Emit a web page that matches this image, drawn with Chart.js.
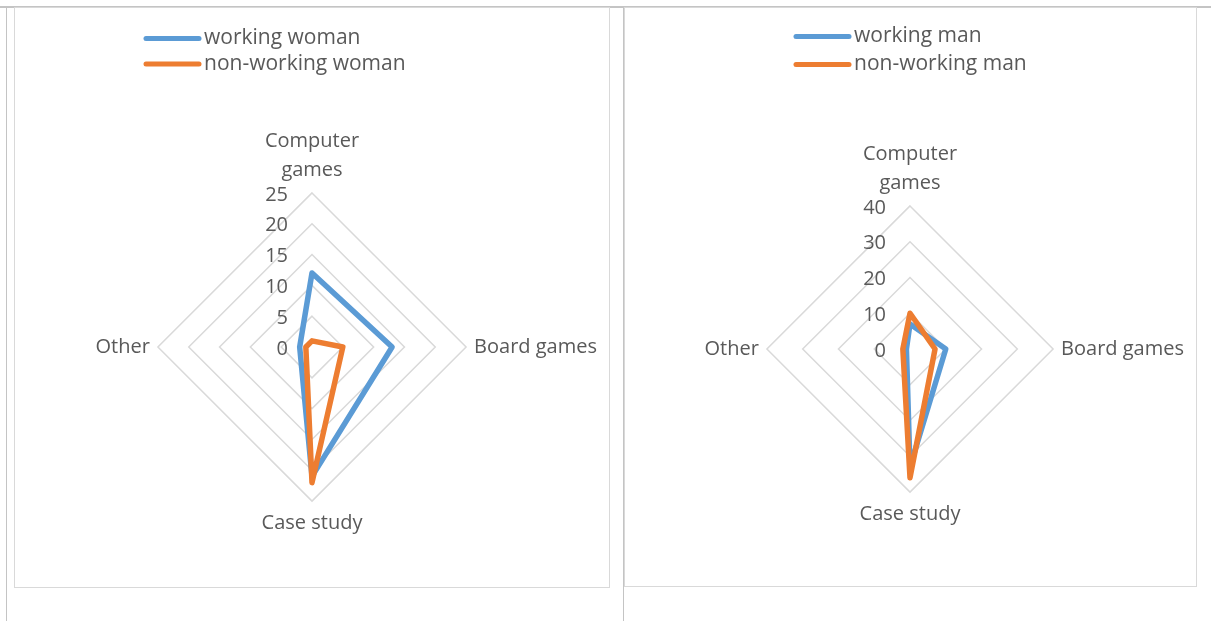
<!DOCTYPE html>
<html>
<head>
<meta charset="utf-8">
<script src="https://cdn.jsdelivr.net/npm/chart.js@4/dist/chart.umd.min.js"></script>
<style>
  html, body { margin: 0; padding: 0; background: #fff; overflow: hidden; }
  body { width: 1211px; height: 621px; position: relative; }
  .rule { position: absolute; background: #c4c4c4; }
  .frame { position: absolute; border: 1.5px solid #d9d9d9; box-sizing: border-box; }
  canvas { position: absolute; top: 0; }
  #womenChart { left: 0; }
  #menChart { left: 620px; }
</style>
</head>
<body>
  <div class="rule" style="left:0;top:6px;width:1211px;height:1.5px"></div>
  <div class="rule" style="left:5.5px;top:6px;width:1.5px;height:615px"></div>
  <div class="rule" style="left:622.5px;top:6px;width:1.5px;height:615px"></div>
  <div class="frame" style="left:14px;top:7px;width:596px;height:581px"></div>
  <div class="frame" style="left:624px;top:7px;width:573px;height:580px"></div>

  <canvas id="womenChart" width="640" height="621"></canvas>
  <canvas id="menChart" width="600" height="621"></canvas>

<script>
const categories = [["Computer", "games"], "Board games", "Case study", "Other"];

const workingWoman = [12, 13, 21, 2];
const nonWorkingWoman = [1, 5, 22, 1];
const womenTicks = [0, 5, 10, 15, 20, 25];

const workingMan = [7, 10, 33, 1];
const nonWorkingMan = [10, 7, 36, 2];
const menTicks = [0, 10, 20, 30, 40];

const BLUE = "#5b9bd5";
const ORANGE = "#ed7d31";
const TEXT = "#595959";
const FONT = "'Open Sans', sans-serif";

// legend drawn as two stacked rows: thick rounded line + label
const stackedLegend = {
  id: "stackedLegend",
  afterDraw(chart, args, opts) {
    const ctx = chart.ctx;
    ctx.save();
    ctx.font = "21px " + FONT;
    ctx.textBaseline = "middle";
    ctx.textAlign = "left";
    chart.data.datasets.forEach((ds, i) => {
      const y = opts.y + i * opts.gap;
      ctx.strokeStyle = ds.borderColor;
      ctx.lineWidth = 5;
      ctx.lineCap = "round";
      ctx.beginPath();
      ctx.moveTo(opts.x, y);
      ctx.lineTo(opts.x + 53, y);
      ctx.stroke();
      ctx.fillStyle = TEXT;
      ctx.fillText(ds.label, opts.x + 58, y);
    });
    ctx.restore();
  }
};

// value labels sit to the left of the vertical axis, right aligned
const sideTicks = {
  id: "sideTicks",
  afterDraw(chart, args, opts) {
    const scale = chart.scales.r;
    const ctx = chart.ctx;
    ctx.save();
    ctx.font = "20px " + FONT;
    ctx.fillStyle = TEXT;
    ctx.textAlign = "right";
    ctx.textBaseline = "middle";
    opts.values.forEach(v => {
      const y = scale.yCenter - scale.getDistanceFromCenterForValue(v) + 2;
      ctx.fillText(String(v), scale.xCenter - 24, y);
    });
    ctx.restore();
  }
};

function drawRadar(id, labelA, dataA, labelB, dataB, ticks, padding, legend) {
  const ctx = document.getElementById(id).getContext("2d");
  return new Chart(ctx, {
    type: "radar",
    data: {
      labels: categories,
      datasets: [
        {
          label: labelA,
          data: dataA,
          borderColor: BLUE,
          backgroundColor: BLUE,
          borderWidth: 5.5,
          borderJoinStyle: "round",
          borderCapStyle: "round",
          pointRadius: 0,
          fill: false,
          order: 1,
        },
        {
          label: labelB,
          data: dataB,
          borderColor: ORANGE,
          backgroundColor: ORANGE,
          borderWidth: 5.5,
          borderJoinStyle: "round",
          borderCapStyle: "round",
          pointRadius: 0,
          fill: false,
          order: 0,
        },
      ],
    },
    options: {
      responsive: false,
      animation: false,
      devicePixelRatio: 1,
      layout: { padding: padding },
      plugins: {
        legend: { display: false },
        tooltip: { enabled: false },
        stackedLegend: legend,
        sideTicks: { values: ticks },
      },
      scales: {
        r: {
          min: ticks[0],
          max: ticks[ticks.length - 1],
          ticks: { stepSize: ticks[1] - ticks[0], display: false },
          angleLines: { display: false },
          grid: { color: "#d9d9d9", lineWidth: 1.5 },
          pointLabels: {
            color: TEXT,
            padding: 8,
            font: { family: FONT, size: 20, lineHeight: 1.45 },
          },
        },
      },
    },
    plugins: [stackedLegend, sideTicks],
  });
}

drawRadar("womenChart", "working woman", workingWoman, "non-working woman", nonWorkingWoman,
  womenTicks, { left: 62, right: 8, top: 53, bottom: 8 }, { x: 146, y: 38.5, gap: 25.5 });

drawRadar("menChart", "working man", workingMan, "non-working man", nonWorkingMan,
  menTicks, { left: 51, right: 1, top: 55, bottom: 6 }, { x: 176, y: 36.5, gap: 28 });
</script>
</body>
</html>
